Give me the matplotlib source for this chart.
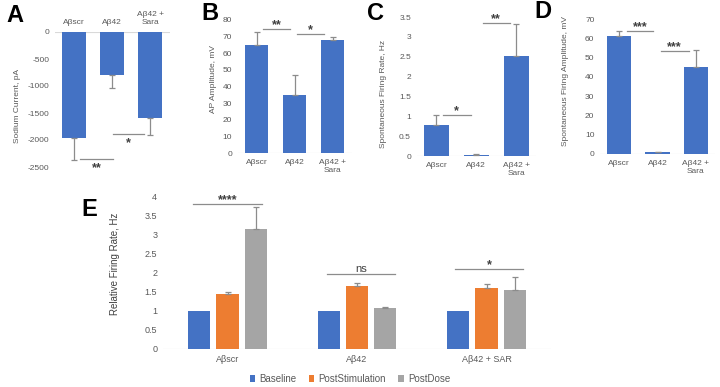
import numpy as np
import matplotlib
matplotlib.use("Agg")
import matplotlib.pyplot as plt

plt.rcParams['font.family'] = ['Liberation Sans', 'DejaVu Sans']
plt.rcParams['axes.unicode_minus'] = False

# ---- data ----
groups = ["Aβscr", "Aβ42", "Aβ42 +\nSara"]

sodium = [-1960, -800, -1600]
sodium_err = [410, 230, 300]

ap_amp = [65, 35, 68]
ap_err = [8, 12, 2]

fire_rate = [0.77, 0.03, 2.52]
fire_rate_err = [0.26, 0.02, 0.8]

fire_amp = [61, 0.8, 45]
fire_amp_err = [3, 0.3, 9]

e_groups = ["Aβscr", "Aβ42", "Aβ42 + SAR"]
e_series = ["Baseline", "PostStimulation", "PostDose"]
baseline = [1, 1, 1]
post_stim = [1.43, 1.66, 1.59]
post_dose = [3.15, 1.07, 1.55]
baseline_err = [0, 0, 0]
post_stim_err = [0.06, 0.06, 0.1]
post_dose_err = [0.57, 0.04, 0.33]

# significance brackets: (x0, x1, y, label)
sig_a = [(0.16, 1.03, -2350, "**"), (1.03, 1.84, -1890, "*")]
sig_b = [(0.17, 0.88, 74.5, "**"), (1.07, 1.78, 71.5, "*")]
sig_c = [(0.16, 0.86, 1.03, "*"), (1.16, 1.84, 3.35, "**")]
sig_d = [(0.2, 0.88, 63.8, "***"), (1.08, 1.81, 53.4, "***")]
sig_e = [(-0.27, 0.27, 3.8, "****"), (0.77, 1.29, 1.95, "ns"), (1.76, 2.28, 2.1, "*")]

BLUE = "#4472C4"
ORANGE = "#ED7D31"
GRAY = "#A5A5A5"
TXT = "#595959"
LINE = "#8c8c8c"

W, H = 720, 387
fig = plt.figure(figsize=(7.2, 3.87), dpi=100)


def px_axes(left, right, top, bottom):
    return fig.add_axes([left / W, 1 - bottom / H, (right - left) / W, (bottom - top) / H])


def style(ax, size=6):
    for s in ax.spines.values():
        s.set_visible(False)
    ax.tick_params(length=0, labelsize=size, colors=TXT, pad=4)


def sig_mark(ax, x0, x1, y, t, below=False):
    ax.plot([x0, x1], [y, y], color=LINE, lw=0.9, clip_on=False)
    if t == "ns":
        off, fs, w = 2, 8, "normal"
    else:
        off, fs, w = 0.5, 9, "bold"
    if below:
        off = -12
    ax.annotate(t, ((x0 + x1) / 2, y), xytext=(0, off * 0.72), textcoords="offset points",
                ha="center", va="baseline", fontsize=fs, fontweight=w,
                color="#404040", annotation_clip=False)


def small_panel(ax, vals, errs, ylim, yticks, ylabel, sig, labxy, below=False):
    x = np.arange(len(vals))
    yerr = [np.zeros(len(errs)), errs] if not below else [errs, np.zeros(len(errs))]
    ax.bar(x, vals, width=0.63, color=BLUE, zorder=2)
    ax.errorbar(x, vals, yerr=yerr, fmt="none", ecolor=LINE, elinewidth=0.9,
                capsize=2, capthick=0.9, zorder=3)
    ax.set_xlim(-0.5, 2.5)
    ax.set_ylim(*ylim)
    ax.set_yticks(yticks)
    ax.set_xticks(x)
    ax.set_xticklabels(groups, fontsize=6.5)
    style(ax)
    ax.axhline(0, color="#d9d9d9", lw=0.8, zorder=1)
    ax.set_ylabel(ylabel, fontsize=6, color=TXT)
    ax.yaxis.set_label_coords(*labxy)
    for x0, x1, y, t in sig:
        sig_mark(ax, x0, x1, y, t, below)


# A
axA = px_axes(55, 169.5, 32, 167)
small_panel(axA, sodium, sodium_err, (-2500, 0), np.arange(-2500, 1, 500),
            "Sodium Current, pA", sig_a, (-0.3, 0.45), below=True)
axA.xaxis.tick_top()

# B
axB = px_axes(237.5, 351.5, 20, 153)
small_panel(axB, ap_amp, ap_err, (0, 80), np.arange(0, 81, 10),
            "AP Amplitude, mV", sig_b, (-0.18, 0.56))

# C
axC = px_axes(416.5, 536, 17, 156)
small_panel(axC, fire_rate, fire_rate_err, (0, 3.5), np.arange(0, 3.6, 0.5),
            "Spontaneous Firing Rate, Hz", sig_c, (-0.25, 0.45))
axC.set_yticklabels(["0", "0.5", "1", "1.5", "2", "2.5", "3", "3.5"])

# D
axD = px_axes(600, 715, 19, 154)
small_panel(axD, fire_amp, fire_amp_err, (0, 70), np.arange(0, 71, 10),
            "Spontaneous Firing Amplitude, mV", sig_d, (-0.27, 0.54))

# E
axE = px_axes(162.75, 551.25, 196, 349)
xe = np.arange(len(e_groups))
step, bw = 0.22, 0.17
series = [(baseline, baseline_err, BLUE), (post_stim, post_stim_err, ORANGE),
          (post_dose, post_dose_err, GRAY)]
for i, (vals, errs, c) in enumerate(series):
    pos = xe + (i - 1) * step
    axE.bar(pos, vals, width=bw, color=c, label=e_series[i], zorder=2)
    if i > 0:
        axE.errorbar(pos, vals, yerr=[np.zeros(3), errs], fmt="none", ecolor=LINE,
                     elinewidth=0.9, capsize=2, capthick=0.9, zorder=3)
axE.set_xlim(-0.5, 2.5)
axE.set_ylim(0, 4)
axE.set_yticks(np.arange(0, 4.1, 0.5))
axE.set_yticklabels(["0", "0.5", "1", "1.5", "2", "2.5", "3", "3.5", "4"])
axE.set_xticks(xe)
axE.set_xticklabels(e_groups)
style(axE, size=6.5)
axE.axhline(0, color="#d9d9d9", lw=0.8, zorder=1)
axE.set_ylabel("Relative Firing Rate, Hz", fontsize=7, color="#404040")
axE.yaxis.set_label_coords(-0.11, 0.56)
for x0, x1, y, t in sig_e:
    sig_mark(axE, x0, x1, y, t)

fig.legend(loc="center", bbox_to_anchor=(0.486, 1 - 379 / H), ncol=3, frameon=False,
           fontsize=7, labelcolor=TXT, handlelength=0.6, handleheight=0.6,
           handletextpad=0.45, columnspacing=1.2)

# panel letters
for letter, px, py in [("A", 15, 16), ("B", 210, 13), ("C", 375, 14),
                       ("D", 543, 11), ("E", 89, 209)]:
    fig.text(px / W, 1 - py / H, letter, fontsize=17, fontweight="bold",
             ha="center", va="center", color="black")

fig.savefig("out.png", dpi=100)
